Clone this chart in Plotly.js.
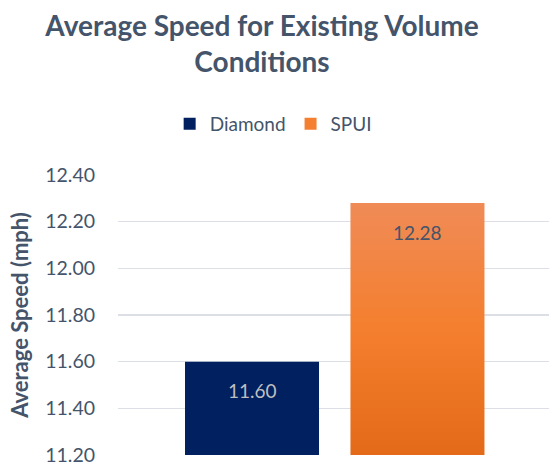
<!DOCTYPE html>
<html>
<head>
<meta charset="utf-8">
<script src="https://cdn.plot.ly/plotly-3.0.1.min.js"></script>
<style>html,body{margin:0;padding:0;background:#fff;}#chart{width:549px;height:466px;}</style>
</head>
<body>
<div id="chart"></div>
<script>
const seriesNames = ["Diamond", "SPUI"];
const speeds = [11.60, 12.28];
const seriesColors = ["#002060", "#F47F30"];
const labelColors = ["#BFBFBF", "#44546A"];
const yTicks = [11.20, 11.40, 11.60, 11.80, 12.00, 12.20, 12.40];
const textColor = "#44546A";
const font = "Lato, 'Open Sans', sans-serif";

const traces = seriesNames.map((name, i) => ({
  type: "bar", name: name, x: [name], y: [speeds[i]], width: 0.81,
  marker: { color: seriesColors[i] }, hoverinfo: "skip"
}));

const annotations = seriesNames.map((name, i) => ({
  x: name, y: speeds[i], xref: "x", yref: "y",
  text: speeds[i].toFixed(2),
  showarrow: false, yanchor: "middle", yshift: -29,
  font: { family: font, size: 19, color: labelColors[i] }
}));

const layout = {
  width: 549, height: 466,
  margin: { l: 118, r: 0, t: 175, b: 11 },
  paper_bgcolor: "#fff", plot_bgcolor: "#fff",
  barmode: "overlay",
  title: {
    text: "<b>Average Speed for Existing Volume<br>Conditions</b>",
    font: { family: font, size: 28, color: textColor },
    x: 262 / 549, xanchor: "center", xref: "container",
    y: 1 - 36 / 466, yanchor: "top", yref: "container"
  },
  legend: {
    orientation: "h", x: 0.36, xanchor: "center", xref: "paper",
    y: 1 - 124 / 466, yanchor: "middle", yref: "container",
    font: { family: font, size: 19, color: textColor }, itemclick: false
  },
  xaxis: { type: "category", range: [-0.81, 1.795], showticklabels: false, showgrid: false, zeroline: false, showline: false, ticks: "" },
  yaxis: {
    range: [11.2, 12.4], tickvals: yTicks, tickformat: ".2f", ticks: "", ticklabelstandoff: 22,
    tickfont: { family: font, size: 19.5, color: textColor },
    showgrid: true, gridcolor: "#DCE0E6", gridwidth: 1.5, zeroline: false, showline: false,
    title: { text: "<b>Average Speed (mph)</b>", standoff: 10, font: { family: font, size: 22, color: textColor } }
  },
  annotations: annotations, showlegend: true
};

function applyGradient(gd) {
  const ns = "http://www.w3.org/2000/svg";
  const svg = gd.querySelector("svg.main-svg");
  let defs = svg.querySelector("defs");
  if (!defs) { defs = document.createElementNS(ns, "defs"); svg.insertBefore(defs, svg.firstChild); }
  const ya = gd._fullLayout.yaxis;
  const yTop = ya.l2p(speeds[1]);
  const yBottom = ya._length;
  let lg = document.getElementById("spuiGrad");
  if (!lg) {
    lg = document.createElementNS(ns, "linearGradient");
    lg.setAttribute("id", "spuiGrad");
    lg.setAttribute("gradientUnits", "userSpaceOnUse");
    [["0%", "#F08B57"], ["50%", "#F47F2E"], ["100%", "#E36A18"]].forEach(([o, c]) => {
      const s = document.createElementNS(ns, "stop");
      s.setAttribute("offset", o); s.setAttribute("stop-color", c);
      lg.appendChild(s);
    });
    defs.appendChild(lg);
  }
  lg.setAttribute("x1", "0"); lg.setAttribute("x2", "0");
  lg.setAttribute("y1", String(yTop)); lg.setAttribute("y2", String(yBottom));
  gd.querySelectorAll(".barlayer path").forEach(p => {
    if (/244,\s*127,\s*48/.test(p.style.fill) || /spuiGrad/.test(p.style.fill)) {
      p.style.setProperty("fill", "url(#spuiGrad)");
    }
  });
}

Plotly.newPlot("chart", traces, layout, { staticPlot: true, displayModeBar: false }).then(gd => {
  applyGradient(gd);
});
</script>
</body>
</html>
